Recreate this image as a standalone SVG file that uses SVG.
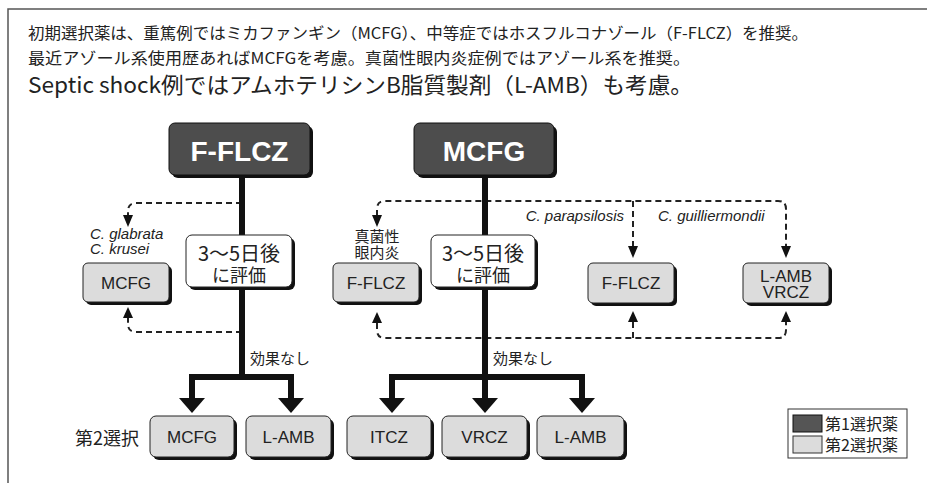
<svg xmlns="http://www.w3.org/2000/svg" width="927" height="483" viewBox="0 0 927 483">
<style>
.jp{font-family:"Noto Sans CJK JP","Liberation Sans",sans-serif;fill:#222}
.lat{font-family:"Liberation Sans",Arial,sans-serif;fill:#222}
.it{font-family:"Liberation Sans",Arial,sans-serif;font-style:italic;fill:#222;font-size:15px}
.shadow{fill:#111}
.dark{fill:#4d4d4d;stroke:#111;stroke-width:1}
.gray{fill:#dcdcdc;stroke:#222;stroke-width:1}
.white{fill:#fff;stroke:#222;stroke-width:1}
.dash{fill:none;stroke:#222;stroke-width:2;stroke-dasharray:6 4}
.thick{fill:none;stroke:#111;stroke-width:6}
.ah{fill:#111}
.dt{font-family:"Liberation Sans",Arial,sans-serif;font-weight:bold;font-size:28px;fill:#fff}
.gt{font-family:"Liberation Sans",Arial,sans-serif;font-size:17px;fill:#222}
</style>
<rect width="927" height="483" fill="#fff"/>
<path d="M8,483 V9 H927" fill="none" stroke="#555" stroke-width="1.5"/>
<g id="header">
<text class="jp" x="28" y="39" font-size="16" textLength="780" lengthAdjust="spacingAndGlyphs">初期選択薬は、重篤例ではミカファンギン（MCFG）、中等症ではホスフルコナゾール（F-FLCZ）を推奨。</text>
<text class="jp" x="28" y="64" font-size="16" textLength="662" lengthAdjust="spacingAndGlyphs">最近アゾール系使用歴あればMCFGを考慮。真菌性眼内炎症例ではアゾール系を推奨。</text>
<text class="jp" x="28" y="93" font-size="22" textLength="665" lengthAdjust="spacingAndGlyphs">Septic shock例ではアムホテリシンB脂質製剤（L-AMB）も考慮。</text>
</g>
<g id="connectors">
<path class="dash" d="M242,203 H136 Q128,203 128,211 V216"/>
<path class="dash" d="M242,332 H136 Q128,332 128,324 V318"/>
<path class="dash" d="M377,216 V209 Q377,201 385,201 H778 Q786,201 786,209 V247 M633,201 V247"/>
<path class="dash" d="M377,323 V330 Q377,338 385,338 H778 Q786,338 786,330 V322 M633,338 V322"/>
<polygon class="ah" points="123,215 133,215 128,227"/>
<polygon class="ah" points="123,318 133,318 128,307"/>
<polygon class="ah" points="372,215 382,215 377,227"/>
<polygon class="ah" points="628,246 638,246 633,258"/>
<polygon class="ah" points="781,246 791,246 786,258"/>
<polygon class="ah" points="372,323 382,323 377,312"/>
<polygon class="ah" points="628,322 638,322 633,311"/>
<polygon class="ah" points="781,322 791,322 786,311"/>
<path class="thick" d="M242,178 V377 M192,399 V377 H291 V399"/>
<path class="thick" d="M485,178 V399 M392,399 V377 H582 V399"/>
<polygon class="ah" points="179,398 205,398 192,413"/>
<polygon class="ah" points="278,398 304,398 291,413"/>
<polygon class="ah" points="379,398 405,398 392,413"/>
<polygon class="ah" points="472,398 498,398 485,413"/>
<polygon class="ah" points="569,398 595,398 582,413"/>
<text class="jp" x="250" y="364" font-size="15">効果なし</text>
<text class="jp" x="493" y="364" font-size="15">効果なし</text>
<text class="it" x="90" y="239">C. glabrata</text>
<text class="it" x="90" y="254">C. krusei</text>
<text class="jp" x="377" y="242" font-size="15" text-anchor="middle">真菌性</text>
<text class="jp" x="377" y="258" font-size="15" text-anchor="middle">眼内炎</text>
<text class="it" x="624" y="221" text-anchor="end">C. parapsilosis</text>
<text class="it" x="658" y="221">C. guilliermondii</text>
</g>
<g id="n-fflcz">
<rect class="shadow" x="172" y="126" width="141" height="52" rx="6"/>
<rect class="dark" x="169" y="123" width="141" height="52" rx="6"/>
<text class="dt" x="239.5" y="161" text-anchor="middle">F-FLCZ</text>
</g>
<g id="n-mcfg">
<rect class="shadow" x="417" y="126" width="140" height="52" rx="6"/>
<rect class="dark" x="414" y="123" width="140" height="52" rx="6"/>
<text class="dt" x="484" y="161" text-anchor="middle">MCFG</text>
</g>
<g id="n-eval1">
<rect class="shadow" x="189" y="238" width="106" height="52" rx="6"/>
<rect class="white" x="186" y="235" width="106" height="52" rx="6"/>
<text class="jp" x="239" y="261" font-size="20" text-anchor="middle">3～5日後</text>
<text class="jp" x="239" y="282" font-size="18" text-anchor="middle">に評価</text>
</g>
<g id="n-eval2">
<rect class="shadow" x="434" y="238" width="104" height="52" rx="6"/>
<rect class="white" x="431" y="235" width="104" height="52" rx="6"/>
<text class="jp" x="483" y="261" font-size="20" text-anchor="middle">3～5日後</text>
<text class="jp" x="483" y="282" font-size="18" text-anchor="middle">に評価</text>
</g>
<g id="n-alt-mcfg">
<rect class="shadow" x="86" y="266" width="86" height="39" rx="5"/>
<rect class="gray" x="83" y="263" width="86" height="39" rx="5"/>
<text class="gt" x="126" y="289" text-anchor="middle">MCFG</text>
</g>
<g id="n-alt-fflcz1">
<rect class="shadow" x="336" y="266" width="86" height="39" rx="5"/>
<rect class="gray" x="333" y="263" width="86" height="39" rx="5"/>
<text class="gt" x="376" y="289" text-anchor="middle">F-FLCZ</text>
</g>
<g id="n-alt-fflcz2">
<rect class="shadow" x="591" y="266" width="86" height="40" rx="5"/>
<rect class="gray" x="588" y="263" width="86" height="40" rx="5"/>
<text class="gt" x="631" y="289" text-anchor="middle">F-FLCZ</text>
</g>
<g id="n-alt-lamb-vrcz">
<rect class="shadow" x="746" y="266" width="86" height="40" rx="5"/>
<rect class="gray" x="743" y="263" width="86" height="40" rx="5"/>
<text class="gt" x="786" y="282" text-anchor="middle">L-AMB</text>
<text class="gt" x="786" y="298" text-anchor="middle">VRCZ</text>
</g>
<g id="n-label2">
<text class="jp" x="75" y="445" font-size="18">第2選択</text>
</g>
<g id="n-b-mcfg">
<rect class="shadow" x="153" y="419" width="84" height="41" rx="6"/>
<rect class="gray" x="150" y="416" width="84" height="41" rx="6"/>
<text class="gt" x="192" y="443" text-anchor="middle">MCFG</text>
</g>
<g id="n-b-lamb1">
<rect class="shadow" x="249" y="419" width="85" height="41" rx="6"/>
<rect class="gray" x="246" y="416" width="85" height="41" rx="6"/>
<text class="gt" x="288.5" y="443" text-anchor="middle">L-AMB</text>
</g>
<g id="n-b-itcz">
<rect class="shadow" x="350" y="419" width="84" height="41" rx="6"/>
<rect class="gray" x="347" y="416" width="84" height="41" rx="6"/>
<text class="gt" x="389" y="443" text-anchor="middle">ITCZ</text>
</g>
<g id="n-b-vrcz">
<rect class="shadow" x="445" y="419" width="85" height="41" rx="6"/>
<rect class="gray" x="442" y="416" width="85" height="41" rx="6"/>
<text class="gt" x="484.5" y="443" text-anchor="middle">VRCZ</text>
</g>
<g id="n-b-lamb2">
<rect class="shadow" x="540" y="419" width="87" height="41" rx="6"/>
<rect class="gray" x="537" y="416" width="87" height="41" rx="6"/>
<text class="gt" x="580.5" y="443" text-anchor="middle">L-AMB</text>
</g>
<g id="legend">
<rect x="788" y="409" width="119" height="49" fill="#fff" stroke="#333" stroke-width="1"/>
<rect x="793" y="415" width="29" height="17" fill="#555" stroke="#111" stroke-width="1"/>
<rect x="793" y="436" width="29" height="17" fill="#dcdcdc" stroke="#333" stroke-width="1"/>
<text class="jp" x="825" y="430" font-size="16">第1選択薬</text>
<text class="jp" x="825" y="451" font-size="16">第2選択薬</text>
</g>
</svg>
